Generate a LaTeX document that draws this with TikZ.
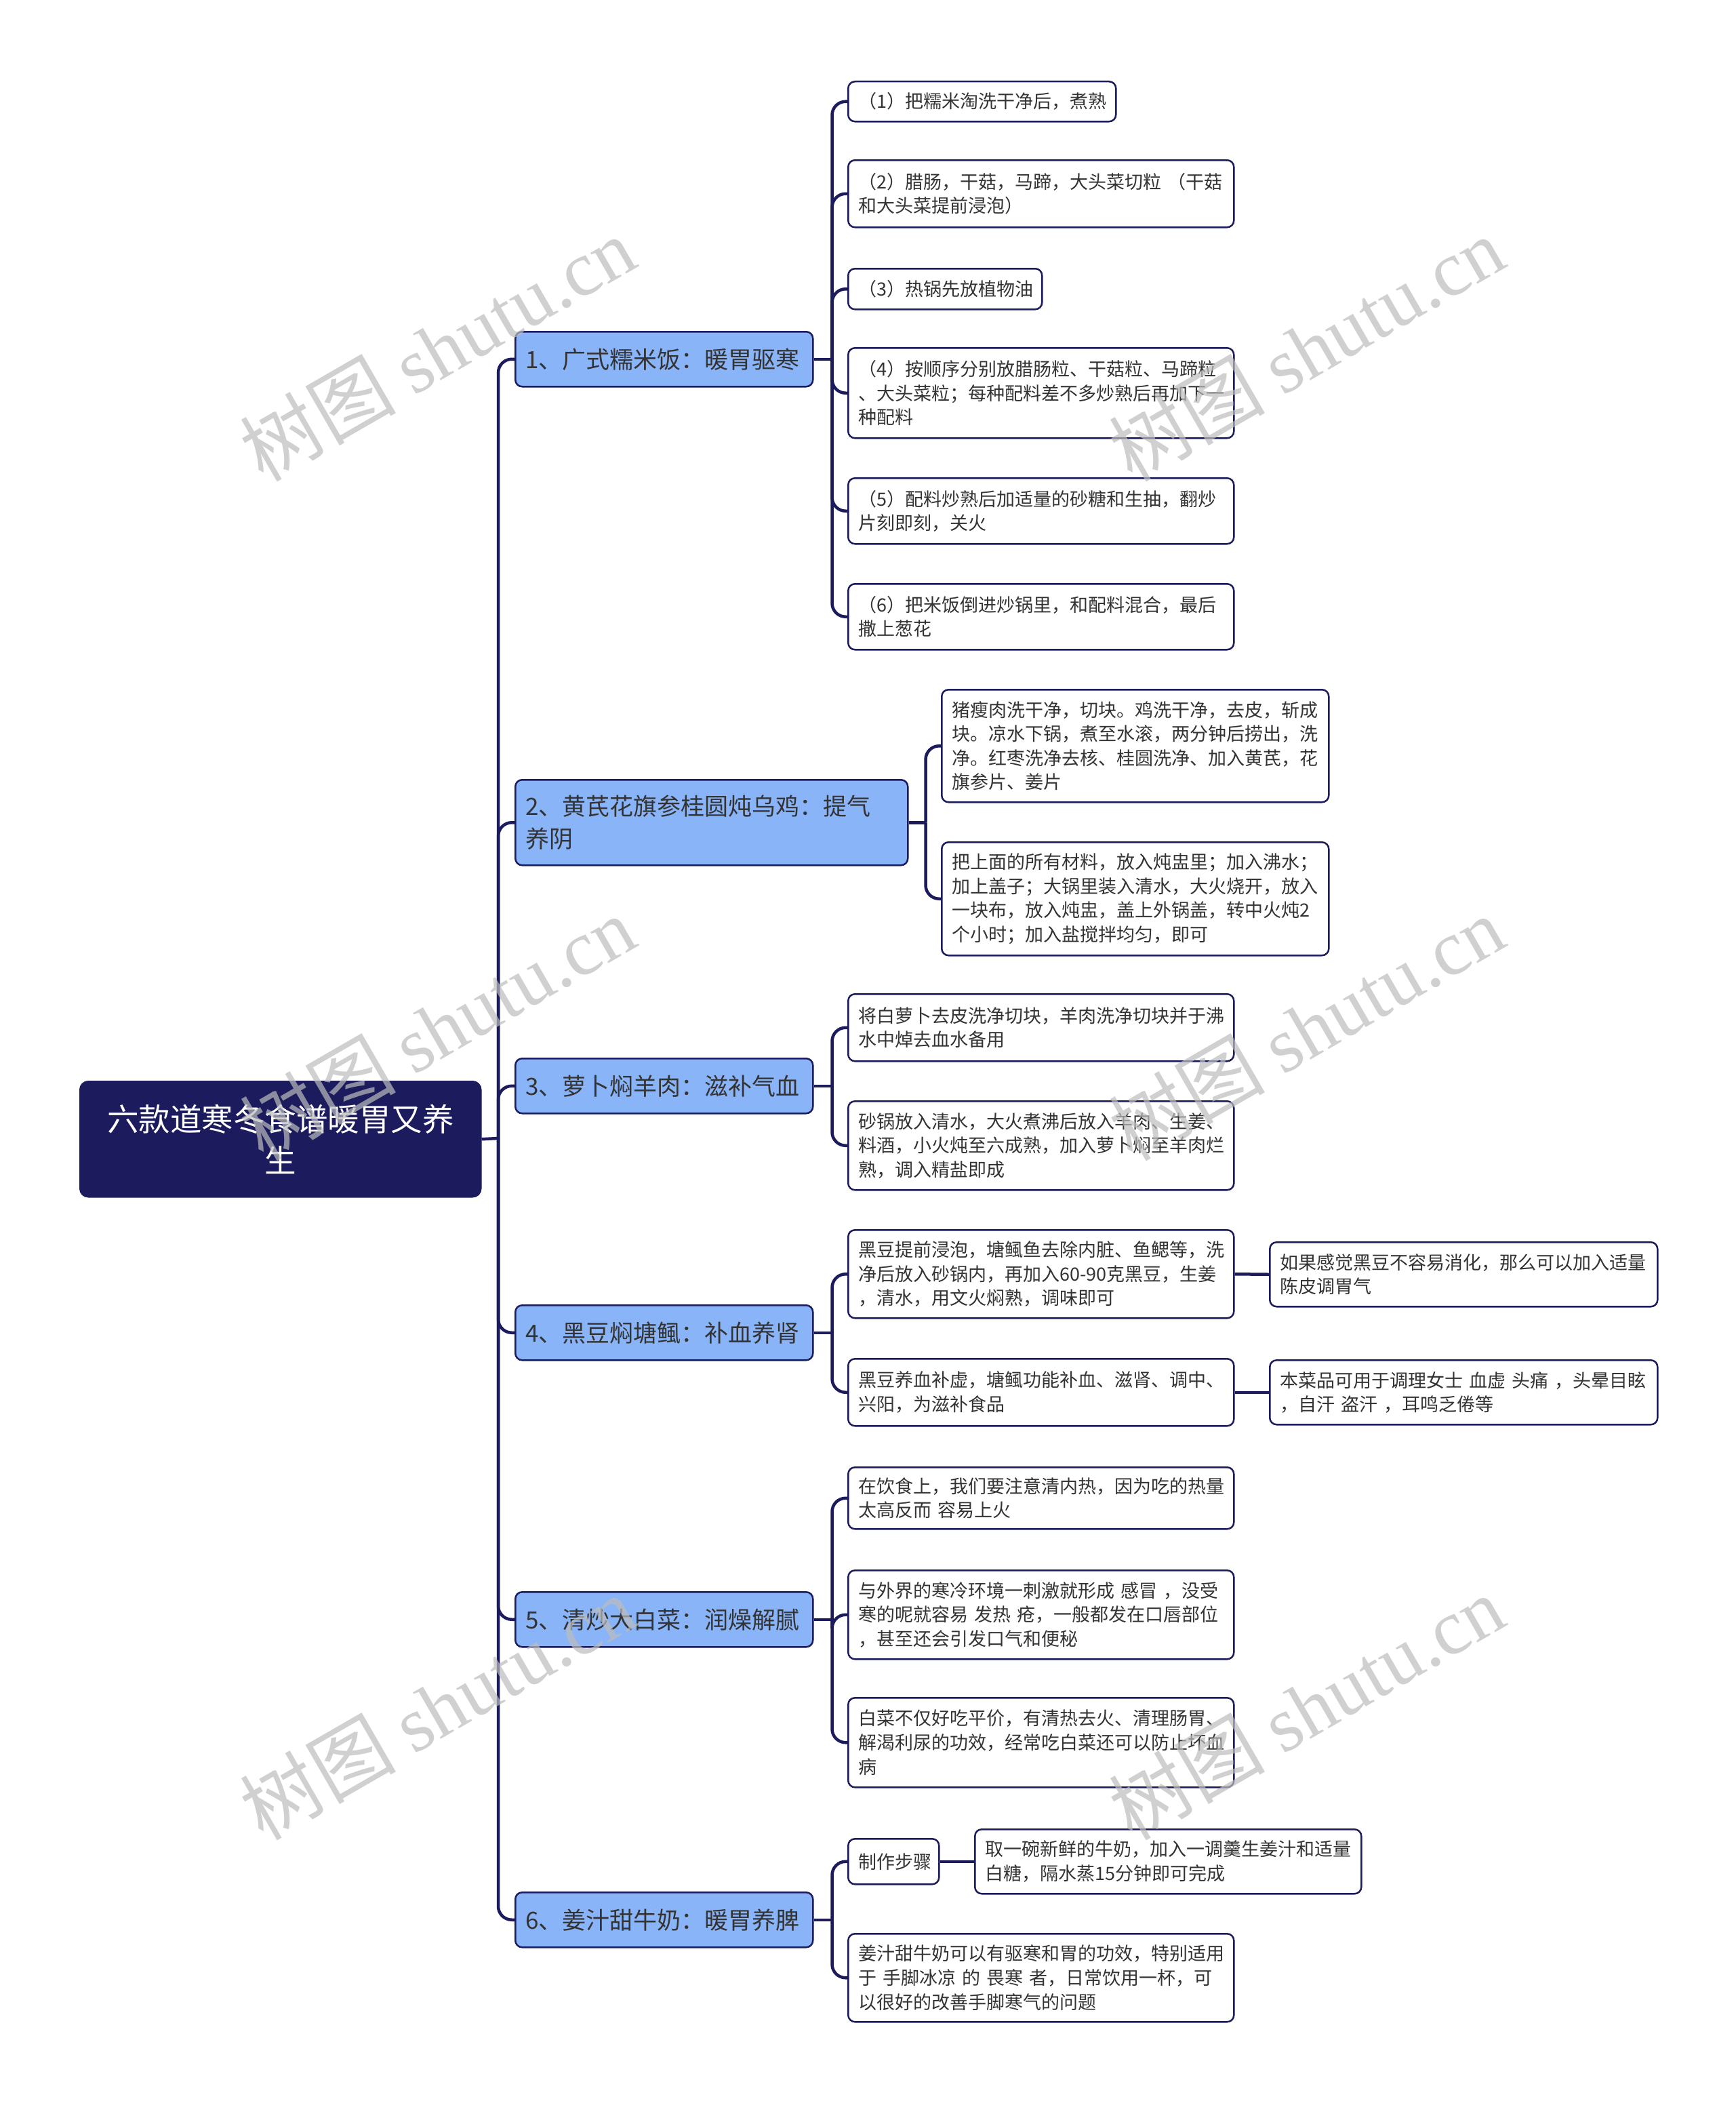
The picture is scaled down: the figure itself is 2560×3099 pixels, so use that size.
\documentclass[tikz,border=0pt]{standalone}
\usepackage{fontspec}
\setmainfont{Noto Sans CJK SC}
\newfontfamily\wmserif{Liberation Serif}
\definecolor{navy}{HTML}{1B1B5E}
\definecolor{lblue}{HTML}{8AB4F8}
\definecolor{txt}{HTML}{333333}
\definecolor{wmgray}{HTML}{BDBDBD}
\newcommand\bx[7]{\pgfmathsetlengthmacro\tw{#5-30}\node[#2,anchor=north west,text width=\tw,minimum height=#6pt] (#1) at (#3,#4) {#7};}
\tikzset{
 base/.style={draw=navy, line width=2.5pt, rounded corners=10pt, inner xsep=15pt, inner ysep=0pt, align=left, text=txt},
 rootbox/.style={base, fill=navy, text=white, align=center, font=\fontsize{46.5}{61}\selectfont, rounded corners=12pt},
 topic/.style={base, fill=lblue, font=\fontsize{35}{47.5}\selectfont},
 leaf/.style={base, fill=white, font=\fontsize{27}{35.6}\selectfont},
 conn/.style={draw=navy, line width=4.5pt, rounded corners=20pt},
 wm/.style={text=wmgray, opacity=0.7, font=\fontsize{115}{120}\selectfont, rotate=30}
}
\begin{document}
\begin{tikzpicture}[x=1pt,y=-1pt]
\useasboundingbox (0,0) rectangle (2560,3099);
\fill[white] (0,0) rectangle (2560,3099);
% root
\bx{root}{rootbox}{117}{1594}{591}{170}{六款道寒冬食谱暖胃又养\\生}
% level 1
\bx{n1}{topic}{759}{488}{439}{81}{1、广式糯米饭：暖胃驱寒}
\bx{n2}{topic}{759}{1149}{579}{126}{2、黄芪花旗参桂圆炖乌鸡：提气\\养阴}
\bx{n3}{topic}{759}{1560}{439}{81}{3、萝卜焖羊肉：滋补气血}
\bx{n4}{topic}{759}{1924}{439}{81}{4、黑豆焖塘鲺：补血养肾}
\bx{n5}{topic}{759}{2347}{439}{81}{5、清炒大白菜：润燥解腻}
\bx{n6}{topic}{759}{2790}{439}{81}{6、姜汁甜牛奶：暖胃养脾}
% branch 1
\bx{c11}{leaf}{1250}{119}{395}{59}{（1）把糯米淘洗干净后，煮熟}
\bx{c12}{leaf}{1250}{235}{569}{99}{（2）腊肠，干菇，马蹄，大头菜切粒~（干菇\\和大头菜提前浸泡）}
\bx{c13}{leaf}{1250}{395}{286}{60}{（3）热锅先放植物油}
\bx{c14}{leaf}{1250}{512}{569}{133}{（4）按顺序分别放腊肠粒、干菇粒、马蹄粒\\、大头菜粒；每种配料差不多炒熟后再加下一\\种配料}
\bx{c15}{leaf}{1250}{704}{569}{97}{（5）配料炒熟后加适量的砂糖和生抽，翻炒\\片刻即刻，关火}
\bx{c16}{leaf}{1250}{860}{569}{97}{（6）把米饭倒进炒锅里，和配料混合，最后\\撒上葱花}
% branch 2
\bx{c21}{leaf}{1388}{1016}{571}{166}{猪瘦肉洗干净，切块。鸡洗干净，去皮，斩成\\块。凉水下锅，煮至水滚，两分钟后捞出，洗\\净。红枣洗净去核、桂圆洗净、加入黄芪，花\\旗参片、姜片}
\bx{c22}{leaf}{1388}{1241}{571}{167}{把上面的所有材料，放入炖盅里；加入沸水；\\加上盖子；大锅里装入清水，大火烧开，放入\\一块布，放入炖盅，盖上外锅盖，转中火炖2\\个小时；加入盐搅拌均匀，即可}
% branch 3
\bx{c31}{leaf}{1250}{1465}{569}{99}{将白萝卜去皮洗净切块，羊肉洗净切块并于沸\\水中焯去血水备用}
\bx{c32}{leaf}{1250}{1623}{569}{131}{砂锅放入清水，大火煮沸后放入羊肉、生姜、\\料酒，小火炖至六成熟，加入萝卜焖至羊肉烂\\熟，调入精盐即成}
% branch 4
\bx{c41}{leaf}{1250}{1813}{569}{130}{黑豆提前浸泡，塘鲺鱼去除内脏、鱼鳃等，洗\\净后放入砂锅内，再加入60-90克黑豆，生姜\\，清水，用文火焖熟，调味即可}
\bx{c42}{leaf}{1250}{2003}{569}{99}{黑豆养血补虚，塘鲺功能补血、滋肾、调中、\\兴阳，为滋补食品}
\bx{d41}{leaf}{1872}{1831}{572}{95}{如果感觉黑豆不容易消化，那么可以加入适量\\陈皮调胃气}
\bx{d42}{leaf}{1872}{2005}{572}{95}{本菜品可用于调理女士~血虚~头痛~，头晕目眩\\，自汗~盗汗~，耳鸣乏倦等}
% branch 5
\bx{c51}{leaf}{1250}{2163}{569}{91}{在饮食上，我们要注意清内热，因为吃的热量\\太高反而~容易上火}
\bx{c52}{leaf}{1250}{2315}{569}{131}{与外界的寒冷环境一刺激就形成~感冒~，没受\\寒的呢就容易~发热~疮，一般都发在口唇部位\\，甚至还会引发口气和便秘}
\bx{c53}{leaf}{1250}{2503}{569}{132}{白菜不仅好吃平价，有清热去火、清理肠胃、\\解渴利尿的功效，经常吃白菜还可以防止坏血\\病}
% branch 6
\bx{c61}{leaf}{1250}{2711}{134}{67}{制作步骤}
\bx{d61}{leaf}{1437}{2697}{570}{95}{取一碗新鲜的牛奶，加入一调羹生姜汁和适量\\白糖，隔水蒸15分钟即可完成}
\bx{c62}{leaf}{1250}{2851}{569}{130}{姜汁甜牛奶可以有驱寒和胃的功效，特别适用\\于~手脚冰凉~的~畏寒~者，日常饮用一杯，可\\以很好的改善手脚寒气的问题}
% junctions
\coordinate (j0) at (735,1679);
\coordinate (j1) at ([xshift=27pt]n1.east);
\coordinate (j2) at ([xshift=25pt]n2.east);
\coordinate (j3) at ([xshift=27pt]n3.east);
\coordinate (j4) at ([xshift=27pt]n4.east);
\coordinate (j5) at ([xshift=27pt]n5.east);
\coordinate (j6) at ([xshift=27pt]n6.east);
% connectors
\draw[conn] (root.east) -- (j0);
\foreach \n in {n1,n2,n3,n4,n5,n6} \draw[conn] (j0) |- (\n.west);
\draw[conn] (n1.east) -- (j1);
\foreach \n in {c11,c12,c13,c14,c15,c16} \draw[conn] (j1) |- (\n.west);
\draw[conn] (n2.east) -- (j2);
\foreach \n in {c21,c22} \draw[conn] (j2) |- (\n.west);
\draw[conn] (n3.east) -- (j3);
\foreach \n in {c31,c32} \draw[conn] (j3) |- (\n.west);
\draw[conn] (n4.east) -- (j4);
\foreach \n in {c41,c42} \draw[conn] (j4) |- (\n.west);
\draw[conn] (n5.east) -- (j5);
\foreach \n in {c51,c52,c53} \draw[conn] (j5) |- (\n.west);
\draw[conn] (n6.east) -- (j6);
\foreach \n in {c61,c62} \draw[conn] (j6) |- (\n.west);
\draw[conn] (c41.east) -- (d41.west);
\draw[conn] (c42.east) -- (d42.west);
\draw[conn] (c61.east) -- (d61.west);
% watermarks
\node[wm] (wm1) at (645,514) {树图 {\wmserif shutu.cn}};
\node[wm] (wm2) at (1927,514) {树图 {\wmserif shutu.cn}};
\node[wm] (wm3) at (645,1516) {树图 {\wmserif shutu.cn}};
\node[wm] (wm4) at (1927,1516) {树图 {\wmserif shutu.cn}};
\node[wm] (wm5) at (645,2518) {树图 {\wmserif shutu.cn}};
\node[wm] (wm6) at (1927,2518) {树图 {\wmserif shutu.cn}};
\end{tikzpicture}
\end{document}
